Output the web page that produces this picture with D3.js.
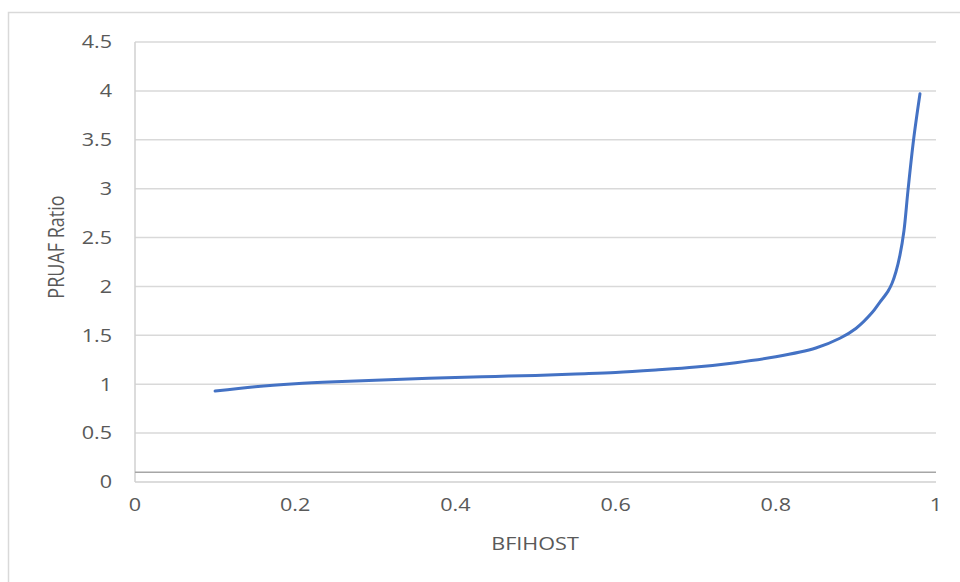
<!DOCTYPE html>
<html>
<head>
<meta charset="utf-8">
<script src="https://cdn.jsdelivr.net/npm/d3@7"></script>
<style>
  html, body { margin: 0; padding: 0; background: #fff; }
  text { font-family: "Open Sans", "Noto Sans", sans-serif; fill: #595959; }
</style>
</head>
<body>
<svg id="chart" width="960" height="582"></svg>
<script>
// ---- data ----
const bfihost = [0.10, 0.15, 0.20, 0.25, 0.30, 0.35, 0.40, 0.45, 0.50, 0.55, 0.60, 0.65, 0.70, 0.75, 0.80, 0.85, 0.88, 0.90, 0.92, 0.93, 0.94, 0.945, 0.95, 0.955, 0.96, 0.965, 0.972, 0.98];
const pruafRatio = [0.93, 0.975, 1.005, 1.025, 1.04, 1.055, 1.07, 1.08, 1.09, 1.105, 1.12, 1.145, 1.175, 1.22, 1.28, 1.37, 1.47, 1.57, 1.73, 1.84, 1.95, 2.03, 2.15, 2.32, 2.57, 2.98, 3.5, 3.97];
const refLineX = [0, 1];
const refLineY = [0.1, 0.1];
const xTicks = [0, 0.2, 0.4, 0.6, 0.8, 1];
const yTicks = [0, 0.5, 1, 1.5, 2, 2.5, 3, 3.5, 4, 4.5];
const xTitle = "BFIHOST";
const yTitle = "PRUAF Ratio";

// ---- layout ----
const svg = d3.select("#chart");
const x = d3.scaleLinear().domain([0, 1]).range([135, 936]);
const y = d3.scaleLinear().domain([0, 4.5]).range([482, 42]);
const sx = 1.2; // horizontal text stretch
const fs = "18px";

svg.append("rect").attr("x", 0).attr("y", 0).attr("width", 960).attr("height", 582).attr("fill", "#fff");
svg.append("rect").attr("x", 8.5).attr("y", 12.5).attr("width", 1000).attr("height", 1000)
  .attr("fill", "none").attr("stroke", "#d9d9d9").attr("stroke-width", 1.5);

// gridlines
svg.append("g").selectAll("line").data(yTicks.filter(d => d > 0)).join("line")
  .attr("x1", x(0)).attr("x2", x(1))
  .attr("y1", d => y(d)).attr("y2", d => y(d))
  .attr("stroke", "#d9d9d9").attr("stroke-width", 1.5);

// axis lines
svg.append("line").attr("x1", x(0)).attr("x2", x(0)).attr("y1", y(4.5)).attr("y2", y(0))
  .attr("stroke", "#d0d0d0").attr("stroke-width", 1.5);
svg.append("line").attr("x1", x(0)).attr("x2", x(1)).attr("y1", y(0)).attr("y2", y(0))
  .attr("stroke", "#d0d0d0").attr("stroke-width", 1.5);

// reference line
const refData = refLineX.map((d, i) => ({x: d, y: refLineY[i]}));
svg.append("path").datum(refData)
  .attr("d", d3.line().x(d => x(d.x)).y(d => y(d.y)))
  .attr("fill", "none").attr("stroke", "#a6a6a6").attr("stroke-width", 1.5);

// y tick labels
svg.append("g").selectAll("text").data(yTicks).join("text")
  .attr("transform", d => `translate(112,${y(d)}) scale(${sx},1)`)
  .attr("text-anchor", "end").attr("dy", "0.35em")
  .style("font-size", fs)
  .text(d => d);

// x tick labels
svg.append("g").selectAll("text").data(xTicks).join("text")
  .attr("transform", d => `translate(${x(d)},511) scale(${sx},1)`)
  .attr("text-anchor", "middle")
  .style("font-size", fs)
  .text(d => d);

// titles
svg.append("text").attr("transform", `translate(535,550) scale(${sx},1)`)
  .attr("text-anchor", "middle").style("font-size", fs).text(xTitle);
svg.append("text").attr("transform", `translate(64,247) rotate(-90) scale(1,${sx})`)
  .attr("text-anchor", "middle").style("font-size", fs).text(yTitle);

// series
const data = bfihost.map((d, i) => ({x: d, y: pruafRatio[i]}));
svg.append("path").datum(data)
  .attr("d", d3.line().x(d => x(d.x)).y(d => y(d.y)).curve(d3.curveCatmullRom.alpha(0.5)))
  .attr("fill", "none").attr("stroke", "#4472C4").attr("stroke-width", 3)
  .attr("stroke-linecap", "round").attr("stroke-linejoin", "round");
</script>
</body>
</html>
